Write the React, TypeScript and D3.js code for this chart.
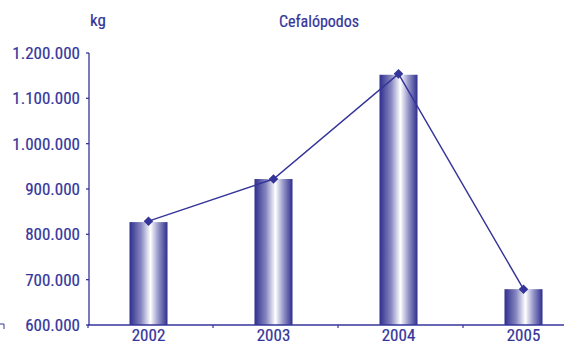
import React from "react";
import * as d3 from "d3";

const years = ["2002", "2003", "2004", "2005"];
const barValues = [827000, 922000, 1152000, 679000];
const lineValues = [829000, 922000, 1154000, 679000];
const yTicks = [600000, 700000, 800000, 900000, 1000000, 1100000, 1200000];
const title = "Cefalópodos";
const unit = "kg";

const W = 564;
const H = 345;
const C = "#34349a";
const FONT = "'Liberation Sans Narrow', 'Roboto Condensed', 'Arial Narrow', sans-serif";

export default function App() {
  const x = d3.scaleBand<string>().domain(years).range([88, 588]);
  const y = d3.scaleLinear().domain([600000, 1200000]).range([325, 53]);
  const fmt = (v: number) => d3.format(",")(v).replace(/,/g, ".");
  const barW = 38;
  const cx = (d: string) => (x(d) as number) + x.bandwidth() / 2 - 2;
  const line = d3
    .line<number>()
    .x((_, i) => cx(years[i]))
    .y((v) => y(v));
  const diamond = d3.symbol().type(d3.symbolSquare).size(46)();
  const txt = { fontFamily: FONT, fill: C, stroke: C, strokeWidth: 0.2 };

  return (
    <svg width={W} height={H} style={{ position: "absolute", left: 0, top: 0, background: "#fff" }}>
      <defs>
        <linearGradient id="bg" x1="0" x2="1" y1="0" y2="0">
          <stop offset="0" stopColor="#2e2e8e" />
          <stop offset="0.3" stopColor="#8585bf" />
          <stop offset="0.55" stopColor="#ffffff" />
          <stop offset="0.75" stopColor="#9a9acb" />
          <stop offset="1" stopColor="#2e2e8e" />
        </linearGradient>
      </defs>
      <rect width={W} height={H} fill="#fff" />
      {years.map((d, i) => (
        <rect
          key={d}
          x={cx(d) - barW / 2}
          y={y(barValues[i])}
          width={barW}
          height={y(600000) - y(barValues[i])}
          fill="url(#bg)"
        />
      ))}
      <path d={line(lineValues) || ""} fill="none" stroke={C} strokeWidth={1.4} />
      {lineValues.map((v, i) => (
        <path key={i} d={diamond || ""} transform={`translate(${cx(years[i])},${y(v)}) rotate(45)`} fill={C} />
      ))}
      {/* y axis */}
      <line x1={89} x2={89} y1={y(1200000)} y2={y(600000)} stroke={C} strokeWidth={1.3} />
      {yTicks.map((t) => (
        <g key={t}>
          <line x1={86} x2={89} y1={y(t)} y2={y(t)} stroke={C} strokeWidth={1.3} />
          <text x={80} y={y(t)} dy="0.35em" textAnchor="end" fontSize={17} {...txt}>
            {fmt(t)}
          </text>
        </g>
      ))}
      {/* x axis */}
      <line x1={88} x2={W} y1={325} y2={325} stroke={C} strokeWidth={1.3} />
      {years.map((d) => (
        <line key={d} x1={x(d) as number} x2={x(d) as number} y1={325} y2={328} stroke={C} strokeWidth={1.2} />
      ))}
      {years.map((d) => (
        <text key={d} x={cx(d)} y={341} textAnchor="middle" fontSize={17} {...txt}>
          {d}
        </text>
      ))}
      <text x={98} y={26} textAnchor="middle" fontSize={17} {...txt}>
        {unit}
      </text>
      <text x={319} y={27} textAnchor="middle" fontSize={16} {...txt}>
        {title}
      </text>
      <path d="M0,324 H4 V329" fill="none" stroke={C} strokeWidth={1} />
    </svg>
  );
}
